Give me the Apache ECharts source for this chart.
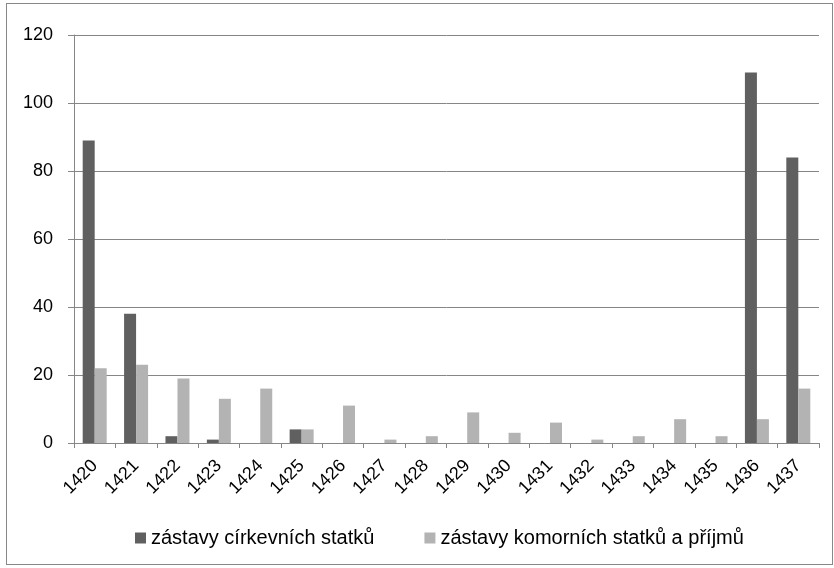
<!DOCTYPE html>
<html><head><meta charset="utf-8">
<script src="https://cdn.jsdelivr.net/npm/echarts@6/dist/echarts.min.js"></script>
<style>html,body{margin:0;padding:0;background:#fff}#c{width:834px;height:568px;}
#frame{position:absolute;left:6px;top:3px;width:827px;height:562px;border:1px solid #888;box-sizing:border-box;pointer-events:none}</style>
</head><body><div id="c"></div><div id="frame"></div>
<script>
const categories = ['1420','1421','1422','1423','1424','1425','1426','1427','1428','1429','1430','1431','1432','1433','1434','1435','1436','1437'];
const churchPledges = [89,38,2,1,0,4,0,0,0,0,0,0,0,0,0,0,109,84];
const chamberPledges = [22,23,19,13,16,4,11,1,2,9,3,6,1,2,7,2,7,16];
const seriesNames = ['zástavy církevních statků','zástavy komorních statků a příjmů'];
const yTicks = {min:0,max:120,interval:20};

const chart = echarts.init(document.getElementById('c'));
const font = 'Liberation Sans, Arial, sans-serif';
chart.setOption({
  animation:false,
  textStyle:{fontFamily:font},
  grid:{left:74,right:15,top:35,bottom:125},
  legend:{bottom:15,left:130,itemWidth:11,itemHeight:11,itemGap:50,icon:'rect',
    textStyle:{fontSize:20,color:'#000',fontFamily:font},data:seriesNames},
  xAxis:{type:'category',data:categories,
    axisLine:{lineStyle:{color:'#868686'}},
    axisTick:{show:true,alignWithLabel:false,length:5,lineStyle:{color:'#868686'}},
    axisLabel:{rotate:45,fontSize:18,color:'#000',margin:20,interval:0,fontFamily:font}},
  yAxis:{type:'value',min:yTicks.min,max:yTicks.max,interval:yTicks.interval,
    axisLine:{show:true,lineStyle:{color:'#868686'}},
    axisTick:{show:true,length:6,lineStyle:{color:'#868686'}},
    splitLine:{lineStyle:{color:'#868686'}},
    axisLabel:{fontSize:18,color:'#000',margin:21,fontFamily:font}},
  series:[
    {name:seriesNames[0],type:'bar',data:churchPledges,itemStyle:{color:'#606060'},barGap:'0%',barCategoryGap:'42%'},
    {name:seriesNames[1],type:'bar',data:chamberPledges,itemStyle:{color:'#b3b3b3'},barGap:'0%',barCategoryGap:'42%'}
  ]
});
</script></body></html>
